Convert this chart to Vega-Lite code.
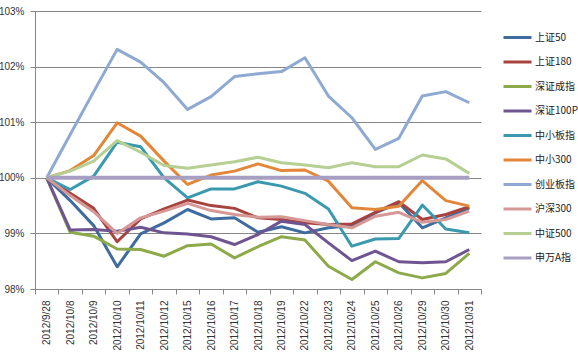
{
  "$schema": "https://vega.github.io/schema/vega-lite/v6.json",
  "width": 446,
  "height": 278,
  "autosize": {"type": "none"},
  "padding": {"left": 35, "top": 11, "right": 97, "bottom": 66},
  "background": "white",
  "config": {"view": {"stroke": null}, "font": "Liberation Sans"},
  "datasets": {
    "idx": [
      {"date": "2012/9/28", "series": "上证50", "value": 100},
      {"date": "2012/10/8", "series": "上证50", "value": 99.59},
      {"date": "2012/10/9", "series": "上证50", "value": 99.14},
      {"date": "2012/10/10", "series": "上证50", "value": 98.4},
      {"date": "2012/10/11", "series": "上证50", "value": 98.99},
      {"date": "2012/10/12", "series": "上证50", "value": 99.19},
      {"date": "2012/10/15", "series": "上证50", "value": 99.43},
      {"date": "2012/10/16", "series": "上证50", "value": 99.26},
      {"date": "2012/10/17", "series": "上证50", "value": 99.28},
      {"date": "2012/10/18", "series": "上证50", "value": 99.02},
      {"date": "2012/10/19", "series": "上证50", "value": 99.12},
      {"date": "2012/10/22", "series": "上证50", "value": 99.01},
      {"date": "2012/10/23", "series": "上证50", "value": 99.1},
      {"date": "2012/10/24", "series": "上证50", "value": 99.14},
      {"date": "2012/10/25", "series": "上证50", "value": 99.37},
      {"date": "2012/10/26", "series": "上证50", "value": 99.55},
      {"date": "2012/10/29", "series": "上证50", "value": 99.1},
      {"date": "2012/10/30", "series": "上证50", "value": 99.28},
      {"date": "2012/10/31", "series": "上证50", "value": 99.46},

      {"date": "2012/9/28", "series": "上证180", "value": 100},
      {"date": "2012/10/8", "series": "上证180", "value": 99.72},
      {"date": "2012/10/9", "series": "上证180", "value": 99.45},
      {"date": "2012/10/10", "series": "上证180", "value": 98.85},
      {"date": "2012/10/11", "series": "上证180", "value": 99.26},
      {"date": "2012/10/12", "series": "上证180", "value": 99.44},
      {"date": "2012/10/15", "series": "上证180", "value": 99.6},
      {"date": "2012/10/16", "series": "上证180", "value": 99.5},
      {"date": "2012/10/17", "series": "上证180", "value": 99.45},
      {"date": "2012/10/18", "series": "上证180", "value": 99.28},
      {"date": "2012/10/19", "series": "上证180", "value": 99.25},
      {"date": "2012/10/22", "series": "上证180", "value": 99.19},
      {"date": "2012/10/23", "series": "上证180", "value": 99.16},
      {"date": "2012/10/24", "series": "上证180", "value": 99.17},
      {"date": "2012/10/25", "series": "上证180", "value": 99.38},
      {"date": "2012/10/26", "series": "上证180", "value": 99.57},
      {"date": "2012/10/29", "series": "上证180", "value": 99.25},
      {"date": "2012/10/30", "series": "上证180", "value": 99.34},
      {"date": "2012/10/31", "series": "上证180", "value": 99.48},

      {"date": "2012/9/28", "series": "深证成指", "value": 100},
      {"date": "2012/10/8", "series": "深证成指", "value": 99.02},
      {"date": "2012/10/9", "series": "深证成指", "value": 98.95},
      {"date": "2012/10/10", "series": "深证成指", "value": 98.72},
      {"date": "2012/10/11", "series": "深证成指", "value": 98.71},
      {"date": "2012/10/12", "series": "深证成指", "value": 98.59},
      {"date": "2012/10/15", "series": "深证成指", "value": 98.78},
      {"date": "2012/10/16", "series": "深证成指", "value": 98.81},
      {"date": "2012/10/17", "series": "深证成指", "value": 98.56},
      {"date": "2012/10/18", "series": "深证成指", "value": 98.76},
      {"date": "2012/10/19", "series": "深证成指", "value": 98.94},
      {"date": "2012/10/22", "series": "深证成指", "value": 98.88},
      {"date": "2012/10/23", "series": "深证成指", "value": 98.41},
      {"date": "2012/10/24", "series": "深证成指", "value": 98.17},
      {"date": "2012/10/25", "series": "深证成指", "value": 98.49},
      {"date": "2012/10/26", "series": "深证成指", "value": 98.29},
      {"date": "2012/10/29", "series": "深证成指", "value": 98.2},
      {"date": "2012/10/30", "series": "深证成指", "value": 98.28},
      {"date": "2012/10/31", "series": "深证成指", "value": 98.64},

      {"date": "2012/9/28", "series": "深证100P", "value": 100},
      {"date": "2012/10/8", "series": "深证100P", "value": 99.06},
      {"date": "2012/10/9", "series": "深证100P", "value": 99.07},
      {"date": "2012/10/10", "series": "深证100P", "value": 99.04},
      {"date": "2012/10/11", "series": "深证100P", "value": 99.11},
      {"date": "2012/10/12", "series": "深证100P", "value": 99.01},
      {"date": "2012/10/15", "series": "深证100P", "value": 98.99},
      {"date": "2012/10/16", "series": "深证100P", "value": 98.94},
      {"date": "2012/10/17", "series": "深证100P", "value": 98.8},
      {"date": "2012/10/18", "series": "深证100P", "value": 98.98},
      {"date": "2012/10/19", "series": "深证100P", "value": 99.22},
      {"date": "2012/10/22", "series": "深证100P", "value": 99.16},
      {"date": "2012/10/23", "series": "深证100P", "value": 98.83},
      {"date": "2012/10/24", "series": "深证100P", "value": 98.51},
      {"date": "2012/10/25", "series": "深证100P", "value": 98.68},
      {"date": "2012/10/26", "series": "深证100P", "value": 98.49},
      {"date": "2012/10/29", "series": "深证100P", "value": 98.47},
      {"date": "2012/10/30", "series": "深证100P", "value": 98.49},
      {"date": "2012/10/31", "series": "深证100P", "value": 98.71},

      {"date": "2012/9/28", "series": "中小板指", "value": 100},
      {"date": "2012/10/8", "series": "中小板指", "value": 99.79},
      {"date": "2012/10/9", "series": "中小板指", "value": 100.03},
      {"date": "2012/10/10", "series": "中小板指", "value": 100.64},
      {"date": "2012/10/11", "series": "中小板指", "value": 100.56},
      {"date": "2012/10/12", "series": "中小板指", "value": 100.0},
      {"date": "2012/10/15", "series": "中小板指", "value": 99.64},
      {"date": "2012/10/16", "series": "中小板指", "value": 99.8},
      {"date": "2012/10/17", "series": "中小板指", "value": 99.8},
      {"date": "2012/10/18", "series": "中小板指", "value": 99.93},
      {"date": "2012/10/19", "series": "中小板指", "value": 99.85},
      {"date": "2012/10/22", "series": "中小板指", "value": 99.72},
      {"date": "2012/10/23", "series": "中小板指", "value": 99.44},
      {"date": "2012/10/24", "series": "中小板指", "value": 98.77},
      {"date": "2012/10/25", "series": "中小板指", "value": 98.9},
      {"date": "2012/10/26", "series": "中小板指", "value": 98.91},
      {"date": "2012/10/29", "series": "中小板指", "value": 99.51},
      {"date": "2012/10/30", "series": "中小板指", "value": 99.08},
      {"date": "2012/10/31", "series": "中小板指", "value": 99.01},

      {"date": "2012/9/28", "series": "中小300", "value": 100},
      {"date": "2012/10/8", "series": "中小300", "value": 100.13},
      {"date": "2012/10/9", "series": "中小300", "value": 100.4},
      {"date": "2012/10/10", "series": "中小300", "value": 100.99},
      {"date": "2012/10/11", "series": "中小300", "value": 100.75},
      {"date": "2012/10/12", "series": "中小300", "value": 100.3},
      {"date": "2012/10/15", "series": "中小300", "value": 99.88},
      {"date": "2012/10/16", "series": "中小300", "value": 100.05},
      {"date": "2012/10/17", "series": "中小300", "value": 100.12},
      {"date": "2012/10/18", "series": "中小300", "value": 100.25},
      {"date": "2012/10/19", "series": "中小300", "value": 100.13},
      {"date": "2012/10/22", "series": "中小300", "value": 100.14},
      {"date": "2012/10/23", "series": "中小300", "value": 99.94},
      {"date": "2012/10/24", "series": "中小300", "value": 99.46},
      {"date": "2012/10/25", "series": "中小300", "value": 99.43},
      {"date": "2012/10/26", "series": "中小300", "value": 99.49},
      {"date": "2012/10/29", "series": "中小300", "value": 99.95},
      {"date": "2012/10/30", "series": "中小300", "value": 99.59},
      {"date": "2012/10/31", "series": "中小300", "value": 99.49},

      {"date": "2012/9/28", "series": "创业板指", "value": 100},
      {"date": "2012/10/8", "series": "创业板指", "value": 100.78},
      {"date": "2012/10/9", "series": "创业板指", "value": 101.55},
      {"date": "2012/10/10", "series": "创业板指", "value": 102.31},
      {"date": "2012/10/11", "series": "创业板指", "value": 102.08},
      {"date": "2012/10/12", "series": "创业板指", "value": 101.71},
      {"date": "2012/10/15", "series": "创业板指", "value": 101.23},
      {"date": "2012/10/16", "series": "创业板指", "value": 101.46},
      {"date": "2012/10/17", "series": "创业板指", "value": 101.82},
      {"date": "2012/10/18", "series": "创业板指", "value": 101.87},
      {"date": "2012/10/19", "series": "创业板指", "value": 101.91},
      {"date": "2012/10/22", "series": "创业板指", "value": 102.16},
      {"date": "2012/10/23", "series": "创业板指", "value": 101.47},
      {"date": "2012/10/24", "series": "创业板指", "value": 101.08},
      {"date": "2012/10/25", "series": "创业板指", "value": 100.51},
      {"date": "2012/10/26", "series": "创业板指", "value": 100.71},
      {"date": "2012/10/29", "series": "创业板指", "value": 101.47},
      {"date": "2012/10/30", "series": "创业板指", "value": 101.55},
      {"date": "2012/10/31", "series": "创业板指", "value": 101.35},

      {"date": "2012/9/28", "series": "沪深300", "value": 100},
      {"date": "2012/10/8", "series": "沪深300", "value": 99.68},
      {"date": "2012/10/9", "series": "沪深300", "value": 99.39},
      {"date": "2012/10/10", "series": "沪深300", "value": 99.0},
      {"date": "2012/10/11", "series": "沪深300", "value": 99.28},
      {"date": "2012/10/12", "series": "沪深300", "value": 99.4},
      {"date": "2012/10/15", "series": "沪深300", "value": 99.54},
      {"date": "2012/10/16", "series": "沪深300", "value": 99.41},
      {"date": "2012/10/17", "series": "沪深300", "value": 99.34},
      {"date": "2012/10/18", "series": "沪深300", "value": 99.29},
      {"date": "2012/10/19", "series": "沪深300", "value": 99.3},
      {"date": "2012/10/22", "series": "沪深300", "value": 99.23},
      {"date": "2012/10/23", "series": "沪深300", "value": 99.16},
      {"date": "2012/10/24", "series": "沪深300", "value": 99.1},
      {"date": "2012/10/25", "series": "沪深300", "value": 99.31},
      {"date": "2012/10/26", "series": "沪深300", "value": 99.38},
      {"date": "2012/10/29", "series": "沪深300", "value": 99.2},
      {"date": "2012/10/30", "series": "沪深300", "value": 99.25},
      {"date": "2012/10/31", "series": "沪深300", "value": 99.4},

      {"date": "2012/9/28", "series": "中证500", "value": 100},
      {"date": "2012/10/8", "series": "中证500", "value": 100.12},
      {"date": "2012/10/9", "series": "中证500", "value": 100.3},
      {"date": "2012/10/10", "series": "中证500", "value": 100.67},
      {"date": "2012/10/11", "series": "中证500", "value": 100.46},
      {"date": "2012/10/12", "series": "中证500", "value": 100.22},
      {"date": "2012/10/15", "series": "中证500", "value": 100.17},
      {"date": "2012/10/16", "series": "中证500", "value": 100.23},
      {"date": "2012/10/17", "series": "中证500", "value": 100.29},
      {"date": "2012/10/18", "series": "中证500", "value": 100.37},
      {"date": "2012/10/19", "series": "中证500", "value": 100.27},
      {"date": "2012/10/22", "series": "中证500", "value": 100.23},
      {"date": "2012/10/23", "series": "中证500", "value": 100.18},
      {"date": "2012/10/24", "series": "中证500", "value": 100.27},
      {"date": "2012/10/25", "series": "中证500", "value": 100.2},
      {"date": "2012/10/26", "series": "中证500", "value": 100.2},
      {"date": "2012/10/29", "series": "中证500", "value": 100.41},
      {"date": "2012/10/30", "series": "中证500", "value": 100.34},
      {"date": "2012/10/31", "series": "中证500", "value": 100.08},

      {"date": "2012/9/28", "series": "申万A指", "value": 100},
      {"date": "2012/10/8", "series": "申万A指", "value": 100},
      {"date": "2012/10/9", "series": "申万A指", "value": 100},
      {"date": "2012/10/10", "series": "申万A指", "value": 100},
      {"date": "2012/10/11", "series": "申万A指", "value": 100},
      {"date": "2012/10/12", "series": "申万A指", "value": 100},
      {"date": "2012/10/15", "series": "申万A指", "value": 100},
      {"date": "2012/10/16", "series": "申万A指", "value": 100},
      {"date": "2012/10/17", "series": "申万A指", "value": 100},
      {"date": "2012/10/18", "series": "申万A指", "value": 100},
      {"date": "2012/10/19", "series": "申万A指", "value": 100},
      {"date": "2012/10/22", "series": "申万A指", "value": 100},
      {"date": "2012/10/23", "series": "申万A指", "value": 100},
      {"date": "2012/10/24", "series": "申万A指", "value": 100},
      {"date": "2012/10/25", "series": "申万A指", "value": 100},
      {"date": "2012/10/26", "series": "申万A指", "value": 100},
      {"date": "2012/10/29", "series": "申万A指", "value": 100},
      {"date": "2012/10/30", "series": "申万A指", "value": 100},
      {"date": "2012/10/31", "series": "申万A指", "value": 100}
    ]
  },
  "data": {"name": "idx"},
  "mark": {"type": "line", "strokeJoin": "round"},
  "encoding": {
    "x": {
      "field": "date",
      "type": "ordinal",
      "sort": ["2012/9/28","2012/10/8","2012/10/9","2012/10/10","2012/10/11","2012/10/12","2012/10/15","2012/10/16","2012/10/17","2012/10/18","2012/10/19","2012/10/22","2012/10/23","2012/10/24","2012/10/25","2012/10/26","2012/10/29","2012/10/30","2012/10/31"],
      "scale": {"type": "band", "paddingInner": 0, "paddingOuter": 0},
      "bandPosition": 0.5,
      "axis": {
        "title": null,
        "labelAngle": -90,
        "tickBand": "extent",
        "grid": false,
        "domainColor": "#868686",
        "tickColor": "#868686",
        "tickSize": 5,
        "labelFont": "Liberation Sans",
        "labelFontSize": 10,
        "labelColor": "#333333",
        "labelPadding": 6
      }
    },
    "y": {
      "field": "value",
      "type": "quantitative",
      "scale": {"domain": [98, 103], "nice": false, "zero": false},
      "axis": {
        "title": null,
        "values": [98, 99, 100, 101, 102, 103],
        "labelExpr": "datum.value + '%'",
        "grid": true,
        "gridColor": "#868686",
        "domainColor": "#868686",
        "tickColor": "#868686",
        "tickSize": 5,
        "labelFont": "Liberation Sans",
        "labelFontSize": 10,
        "labelColor": "#333333",
        "labelPadding": 6
      }
    },
    "color": {
      "field": "series",
      "type": "nominal",
      "scale": {
        "domain": ["上证50","上证180","深证成指","深证100P","中小板指","中小300","创业板指","沪深300","中证500","申万A指"],
        "range": ["#3F6B9F","#A8423F","#8DAA4B","#6F558F","#3A99AE","#E2873A","#8EAAD3","#D69896","#B6CF93","#A79FC2"]
      },
      "legend": {
        "title": null,
        "orient": "none",
        "legendX": 467,
        "legendY": 11,
        "padding": 0,
        "symbolType": "stroke",
        "symbolSize": 784,
        "symbolStrokeWidth": 3,
        "labelFont": "Noto Sans CJK SC",
        "labelFontSize": 10,
        "labelColor": "#222222",
        "labelOffset": 2,
        "rowPadding": 2.5
      }
    },
    "strokeWidth": {
      "condition": {"test": "datum.series === '申万A指'", "value": 4},
      "value": 3
    }
  }
}
